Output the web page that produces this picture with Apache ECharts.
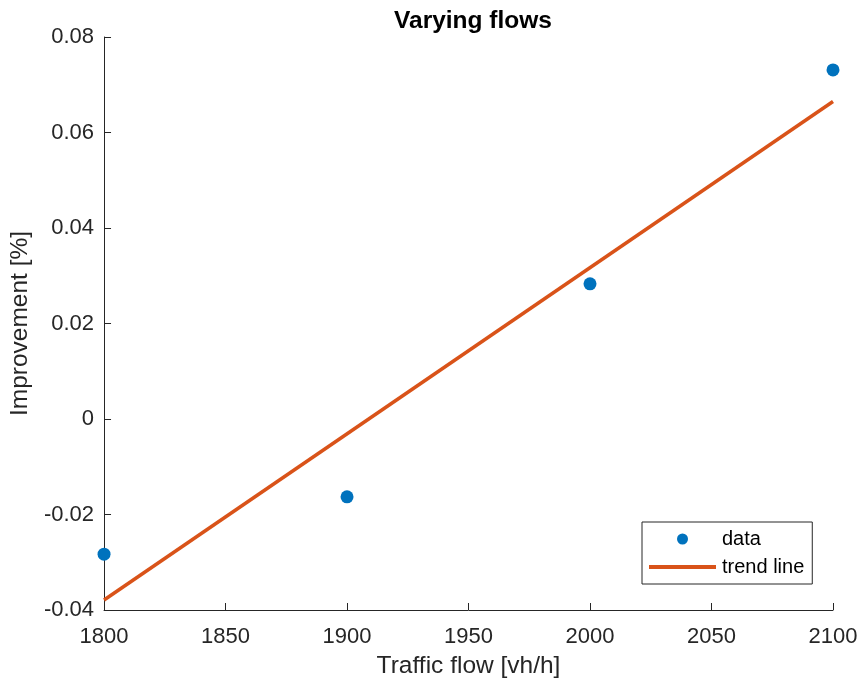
<!DOCTYPE html>
<html><head><meta charset="utf-8">
<script src="https://cdn.jsdelivr.net/npm/echarts@6/dist/echarts.min.js"></script>
<style>html,body{margin:0;padding:0;background:#fff}#c{width:861px;height:684px}</style>
</head><body><div id="c"></div>
<script>
const flows = [1800, 1900, 2000, 2100];
const improvement = [-0.0283, -0.0163, 0.0283, 0.0731];
const trendX = [1800, 2100];
const trendY = [-0.0379, 0.0665];
const xTicks = [1800, 1850, 1900, 1950, 2000, 2050, 2100];
const yTicks = [-0.04, -0.02, 0, 0.02, 0.04, 0.06, 0.08];

const FONT = '"Liberation Sans", Arial, sans-serif';
const TXT = '#262626';
const chart = echarts.init(document.getElementById('c'));
chart.setOption({
  animation: false,
  backgroundColor: '#fff',
  title: {
    text: 'Varying flows', left: 468, top: 4, textAlign: 'center',
    textStyle: {fontFamily: FONT, fontSize: 24.5, fontWeight: 'bold', color: '#000'}
  },
  grid: {left: 103, right: 28, top: 37, bottom: 74},
  legend: {
    left: 642, top: 522, orient: 'vertical',
    borderColor: '#262626', borderWidth: 1, padding: [7, 8, 7, 7],
    itemGap: 8, itemWidth: 67, itemHeight: 11,
    textStyle: {fontFamily: FONT, fontSize: 20, color: '#000', padding: [0, 0, 0, 1]},
    data: [
      {name: 'data', icon: 'circle'},
      {name: 'trend line', icon: 'path://M0,0L67,0L67,4L0,4Z', itemStyle: {color: '#D95319'}}
    ]
  },
  xAxis: {
    type: 'value', min: 1800, max: 2100, interval: 50,
    name: 'Traffic flow [vh/h]', nameLocation: 'middle', nameGap: 44,
    nameTextStyle: {fontFamily: FONT, fontSize: 24.5, color: TXT},
    axisLine: {onZero: false, lineStyle: {color: TXT, width: 1}},
    axisTick: {inside: true, length: 7, lineStyle: {color: TXT}},
    axisLabel: {fontFamily: FONT, fontSize: 22, color: TXT, margin: 16,
      formatter: v => xTicks.includes(v) ? String(v) : ''},
    splitLine: {show: false}
  },
  yAxis: {
    type: 'value', min: -0.04, max: 0.08, interval: 0.02,
    name: 'Improvement [%]', nameLocation: 'middle', nameGap: 67,
    nameTextStyle: {fontFamily: FONT, fontSize: 24.5, color: TXT},
    axisLine: {show: true, onZero: false, lineStyle: {color: TXT, width: 1}},
    axisTick: {show: true, inside: true, length: 7, lineStyle: {color: TXT}},
    axisLabel: {fontFamily: FONT, fontSize: 22, color: TXT, margin: 10,
      formatter: v => {
        const t = yTicks.find(k => Math.abs(k - v) < 1e-9);
        if (t === undefined) return '';
        return t === 0 ? '0' : t.toFixed(2);
      }},
    splitLine: {show: false}
  },
  series: [
    {
      name: 'data', type: 'scatter', symbolSize: 13,
      itemStyle: {color: '#0072BD', opacity: 1},
      data: flows.map((f, i) => [f, improvement[i]]), z: 3
    },
    {
      name: 'trend line', type: 'line', symbol: 'none', showSymbol: false,
      lineStyle: {color: '#D95319', width: 3.5}, itemStyle: {color: '#D95319'},
      data: trendX.map((f, i) => [f, trendY[i]]), z: 2
    }
  ]
});
</script></body></html>
